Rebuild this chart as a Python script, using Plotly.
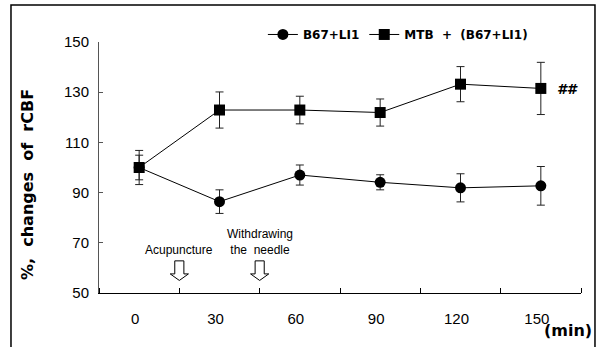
import plotly.graph_objects as go

times = [0, 30, 60, 90, 120, 150]
tick_labels = ["0", "30", "60", "90", "120", "150"]
b67_mean = [100.0, 86.4, 97.0, 94.1, 91.9, 92.7]
b67_err = [4.9, 4.7, 4.0, 3.0, 5.6, 7.7]
mtb_mean = [100.0, 122.9, 122.9, 121.9, 133.2, 131.5]
mtb_err = [6.8, 7.2, 5.5, 5.4, 7.0, 10.4]
y_ticks = [50, 70, 90, 110, 130, 150]
between_ticks = [-15, 15, 45, 75, 105, 135, 165]
events = [(15, "Acupuncture"), (45, "Withdrawing<br>the  needle")]

narrow = "Liberation Sans Narrow, Arial Narrow, Liberation Sans, Arial"
boldf = "DejaVu Sans, Arial"

fig = go.Figure()
fig.add_trace(go.Scatter(
    x=times, y=b67_mean, name="<b>B67+LI1</b>", mode="lines+markers",
    line=dict(color="black", width=1),
    marker=dict(symbol="circle", size=11, color="black"),
    error_y=dict(type="data", array=b67_err, color="#222", thickness=1, width=4),
))
fig.add_trace(go.Scatter(
    x=times, y=mtb_mean, name="<b>MTB  +  (B67+LI1)</b>", mode="lines+markers",
    line=dict(color="black", width=1),
    marker=dict(symbol="square", size=11, color="black"),
    error_y=dict(type="data", array=mtb_err, color="#222", thickness=1, width=4),
))

shapes = []
for t, lab in events:
    sw, hw = 1.7, 3.4
    top, head, tip = 62.8, 57.6, 55.0
    path = (f"M {t-sw},{top} L {t+sw},{top} L {t+sw},{head} L {t+hw},{head} "
            f"L {t},{tip} L {t-hw},{head} L {t-sw},{head} Z")
    shapes.append(dict(type="path", path=path, xref="x", yref="y",
                       line=dict(color="black", width=1), fillcolor="white"))
shapes.append(dict(type="rect", xref="paper", yref="paper",
                   x0=-0.1826, x1=1.029, y0=-0.25, y1=1.147,
                   line=dict(color="black", width=1.5), fillcolor="rgba(0,0,0,0)",
                   layer="below"))
fig.update_layout(shapes=shapes)

annotations = []
for t, lab in events:
    annotations.append(dict(x=t, y=63.5, xref="x", yref="y", text=lab, showarrow=False,
                            xanchor="center", yanchor="bottom",
                            font=dict(family=narrow, size=12, color="black")))
annotations.append(dict(x=(28 - 99) / 482, y=(293 - 185) / 251, xref="paper", yref="paper",
                        xanchor="center", yanchor="middle",
                        text="<b>%,  changes  of  rCBF</b>", textangle=-90, showarrow=False,
                        font=dict(family=boldf, size=16, color="black")))
annotations.append(dict(x=(567 - 99) / 482, y=(293 - 89) / 251, xref="paper", yref="paper",
                        xanchor="center", yanchor="middle",
                        text="<b><i>##</i></b>", showarrow=False,
                        font=dict(family=boldf, size=14, color="black")))
annotations.append(dict(x=(568 - 99) / 482, y=(293 - 330) / 251, xref="paper", yref="paper",
                        xanchor="center", yanchor="middle",
                        text="<b>(min)</b>", showarrow=False,
                        font=dict(family=boldf, size=16, color="black")))
fig.update_layout(annotations=annotations)

fig.update_layout(
    width=598, height=347,
    margin=dict(l=99, r=17, t=42, b=54, autoexpand=False),
    paper_bgcolor="white", plot_bgcolor="white",
    showlegend=True,
    legend=dict(orientation="h", x=0.34, y=1.03, xanchor="left", yanchor="middle",
                font=dict(family=boldf, size=12, color="black"),
                bgcolor="rgba(0,0,0,0)", itemwidth=30),
    xaxis=dict(range=[-15, 165], tickvals=times, ticktext=tick_labels,
               showgrid=False, zeroline=False, showline=True, linecolor="black", linewidth=1,
               ticks="", tickfont=dict(family=narrow, size=15, color="black"),
               ticklabelstandoff=12, ticklabelshift=-4,
               minor=dict(tickvals=between_ticks, ticks="inside", ticklen=5,
                          tickcolor="black", showgrid=False)),
    yaxis=dict(range=[50, 150], tickvals=y_ticks, showgrid=False, zeroline=False,
               showline=True, linecolor="#555", linewidth=1,
               ticks="inside", ticklen=4, tickcolor="#555",
               tickfont=dict(family=narrow, size=15, color="black"), ticklabelstandoff=6),
)

fig.write_html("out.html", config={"displayModeBar": False},
               post_script="document.body.style.margin='0';document.body.style.overflow='hidden';")
